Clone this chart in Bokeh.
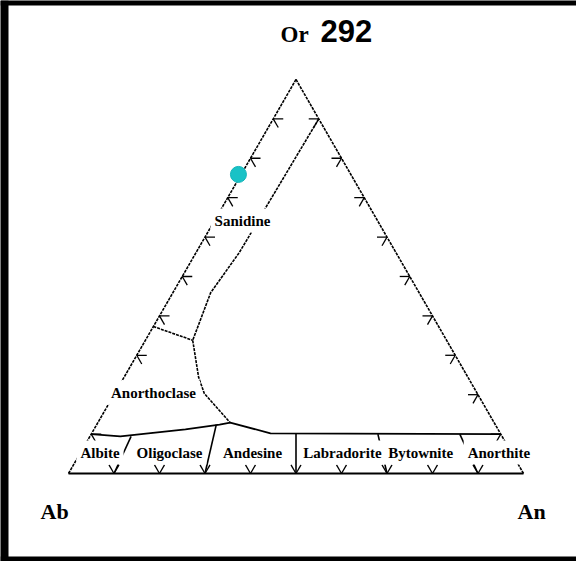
import numpy as np
from bokeh.plotting import figure
from bokeh.models import Label, Range1d, Span
from bokeh.embed import file_html
from bokeh.resources import INLINE

# ---------------- data (ternary compositions, percent) ----------------
sample_name = "292"
sample_or = [75.9]
sample_an = [-0.6]

tick_steps = [10, 20, 30, 40, 50, 60, 70, 80, 90]

# Sanidine / Anorthoclase boundary (An, Or)
sanidine_an = [10.0, 9.6, 9.6, 9.5, 8.3, 10.4]
sanidine_or = [90.0, 67.0, 61.7, 56.1, 45.9, 33.8]
# upper anorthoclase boundary
anortho_up_an = [0.0, 10.4]
anortho_up_or = [37.3, 33.8]
# lower anorthoclase boundary
anortho_low_an = [10.4, 16.4, 19.7, 29.1]
anortho_low_or = [33.8, 24.4, 20.3, 12.9]
# plagioclase top boundary
plag_top_an = [0.0, 6.7, 20.1, 27.0, 29.1, 39.3, 90.0]
plag_top_or = [10.0, 9.4, 11.2, 12.4, 12.9, 10.2, 10.0]
# plagioclase dividers: An/(An+Ab) ratio and Or at upper end
divider_ratio = [10, 30, 50, 70, 90]
divider_top_or = [9.4, 12.4, 10.2, 10.0, 10.0]

field_names = ["Sanidine", "Anorthoclase", "Albite", "Oligoclase",
               "Andesine", "Labradorite", "Bytownite", "Anorthite"]
corner_names = ["Ab", "An", "Or"]

# ---------------- helpers ----------------
S3 = np.sqrt(3) / 2


def tern(an, or_):
    an = np.atleast_1d(np.asarray(an, dtype=float))
    or_ = np.atleast_1d(np.asarray(or_, dtype=float))
    return [float(v) for v in an + or_ / 2.0], [float(v) for v in or_ * S3]


X0, X1 = -14.945, 111.648
Y0, Y1 = -19.341, 103.956
p = figure(width=576, height=561,
           x_range=Range1d(X0, X1), y_range=Range1d(Y0, Y1),
           output_backend="svg", toolbar_location=None, tools="", min_border=0)
p.axis.visible = False
p.grid.visible = False
p.background_fill_color = "white"
p.border_fill_color = "white"
p.outline_line_color = None

# frame border (left, top, bottom)
p.add_layout(Span(location=X0, dimension="height", line_color="black", line_width=16))
p.add_layout(Span(location=Y1, dimension="width", line_color="black", line_width=10))
p.add_layout(Span(location=Y0, dimension="width", line_color="black", line_width=10))

# triangle edges
ab = tern(0, 0)
an = tern(100, 0)
orr = tern(0, 100)
p.line(ab[0] + orr[0], ab[1] + orr[1], line_color="black", line_width=1.6, line_dash="3 1")
p.line(an[0] + orr[0], an[1] + orr[1], line_color="black", line_width=1.6, line_dash="3 1")
p.line(ab[0] + an[0], ab[1] + an[1], line_color="black", line_width=1.8)

# boundaries
x, y = tern(sanidine_an, sanidine_or)
p.line(x, y, line_color="black", line_width=1.6, line_dash="3 1")
x, y = tern(anortho_up_an, anortho_up_or)
p.line(x, y, line_color="black", line_width=1.6, line_dash="3 1")
x, y = tern(anortho_low_an, anortho_low_or)
p.line(x, y, line_color="black", line_width=1.6, line_dash="3 1")
x, y = tern(plag_top_an, plag_top_or)
p.line(x, y, line_color="black", line_width=1.8)

dxs, dys = [], []
for r, top in zip(divider_ratio, divider_top_or):
    an_top = r / 100.0 * (100 - top)
    xs, ys = tern([an_top, r], [top, 0])
    dxs.append(xs)
    dys.append(ys)
p.multi_line(dxs, dys, line_color="black", line_width=1.6)

# ticks
L = 2.2
txs, tys = [], []
for k in tick_steps:
    x0, y0 = tern(0, k)
    x0, y0 = x0[0], y0[0]
    txs += [[x0, x0 + L], [x0, x0 + 0.5 * L]]
    tys += [[y0, y0], [y0, y0 - S3 * L]]
    x0, y0 = tern(100 - k, k)
    x0, y0 = x0[0], y0[0]
    txs += [[x0, x0 - L], [x0, x0 - 0.5 * L]]
    tys += [[y0, y0], [y0, y0 - S3 * L]]
    x0, y0 = tern(k, 0)
    x0, y0 = x0[0], y0[0]
    txs += [[x0, x0 - 0.5 * L], [x0, x0 + 0.5 * L]]
    tys += [[y0, y0 + S3 * L], [y0, y0 + S3 * L]]
p.multi_line(txs, tys, line_color="black", line_width=1.3)

# field labels (white boxes mask the lines)
field_pos = [(38.24, 55.6), (18.68, 17.8), (6.92, 4.6), (22.2, 4.6),
             (40.44, 4.6), (60.2, 4.6), (77.4, 4.6), (94.6, 4.6)]
for name, (lx, ly) in zip(field_names, field_pos):
    p.add_layout(Label(x=lx, y=ly, text=name, text_align="center", text_baseline="middle",
                       text_font="Liberation Serif", text_font_style="bold",
                       text_font_size="15px", text_color="black",
                       background_fill_color="white", background_fill_alpha=1.0,
                       padding=4))

# corner labels
corner_pos = [(-6.15, -8.46), (98.68, -8.35), (46.59, 96.48)]
corner_size = ["22px", "22px", "23px"]
for name, (lx, ly), fs in zip(corner_names, corner_pos, corner_size):
    p.add_layout(Label(x=lx, y=ly, text=name, text_align="left", text_baseline="middle",
                       text_font="Liberation Serif", text_font_style="bold",
                       text_font_size=fs, text_color="black"))
p.add_layout(Label(x=55.38, y=97.36, text=sample_name, text_align="left", text_baseline="middle",
                   text_font="Liberation Sans", text_font_style="bold",
                   text_font_size="31px", text_color="black"))

# sample point
sx, sy = tern(sample_an, sample_or)
p.scatter(sx, sy, size=16, marker="circle", fill_color="#19C2C6", line_color="#12B5BA", line_width=1)

open("out.html", "w").write(file_html(p, INLINE))
